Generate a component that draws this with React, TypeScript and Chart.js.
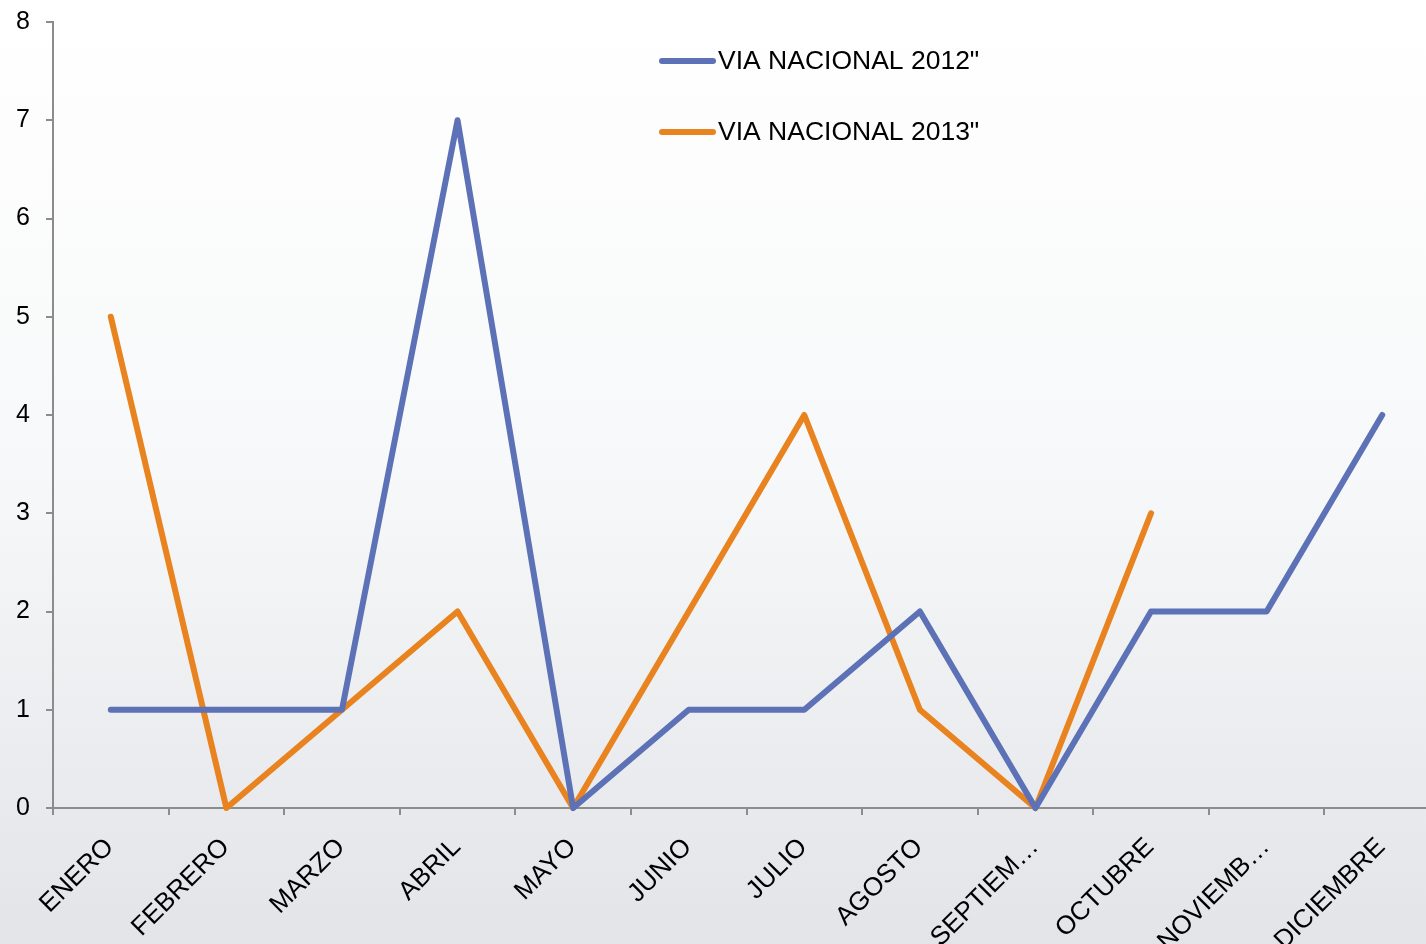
import React, { useEffect, useRef } from "react";
import { Chart, registerables } from "chart.js";

Chart.register(...registerables);

const categories = [
  "ENERO", "FEBRERO", "MARZO", "ABRIL", "MAYO", "JUNIO",
  "JULIO", "AGOSTO", "SEPTIEM…", "OCTUBRE", "NOVIEMB…", "DICIEMBRE",
];
const series2012 = [1, 1, 1, 7, 0, 1, 1, 2, 0, 2, 2, 4];
const series2013 = [5, 0, 1, 2, 0, 2, 4, 1, 0, 3, null, null];
const seriesLabels = ['VIA NACIONAL 2012"', 'VIA NACIONAL 2013"'];
const seriesColors = ["#5C71B6", "#E8831F"];
const yTicks = [0, 1, 2, 3, 4, 5, 6, 7, 8];

const FONT = "'Liberation Sans', Arial, sans-serif";

const bgPlugin = {
  id: "bgGradient",
  beforeDraw(chart: any) {
    const { ctx, width, height } = chart;
    const g = ctx.createLinearGradient(0, 0, 0, height);
    g.addColorStop(0, "#ffffff");
    g.addColorStop(0.5, "#f7f8f9");
    g.addColorStop(1, "#e2e4e8");
    ctx.save();
    ctx.fillStyle = g;
    ctx.fillRect(0, 0, width, height);
    ctx.restore();
  },
};

const legendPlugin = {
  id: "customLegend",
  afterDraw(chart: any) {
    const { ctx } = chart;
    const x0 = 662;
    const x1 = 713;
    const tx = 718;
    const ys = [61, 132];
    ctx.save();
    chart.data.datasets.forEach((ds: any, i: number) => {
      const y = ys[i];
      ctx.strokeStyle = ds.borderColor;
      ctx.lineWidth = 6;
      ctx.lineCap = "round";
      ctx.beginPath();
      ctx.moveTo(x0, y);
      ctx.lineTo(x1, y);
      ctx.stroke();
      ctx.fillStyle = "#000";
      ctx.font = `26.5px ${FONT}`;
      ctx.textBaseline = "middle";
      ctx.textAlign = "left";
      ctx.fillText(ds.label, tx, y + 1);
    });
    ctx.restore();
  },
};

export default function App() {
  const ref = useRef<HTMLCanvasElement | null>(null);

  useEffect(() => {
    document.body.style.margin = "0";
    const canvas = ref.current!;
    const chart = new Chart(canvas, {
      type: "line",
      data: {
        labels: categories,
        datasets: [
          {
            label: seriesLabels[0],
            data: series2012,
            borderColor: seriesColors[0],
            backgroundColor: seriesColors[0],
            borderWidth: 6,
            pointRadius: 0,
            tension: 0,
            borderCapStyle: "round",
            borderJoinStyle: "round",
            clip: false as any,
          },
          {
            label: seriesLabels[1],
            data: series2013,
            borderColor: seriesColors[1],
            backgroundColor: seriesColors[1],
            borderWidth: 6,
            pointRadius: 0,
            tension: 0,
            borderCapStyle: "round",
            borderJoinStyle: "round",
            clip: false as any,
          },
        ],
      },
      options: {
        responsive: false,
        animation: false,
        devicePixelRatio: 1,
        layout: { padding: { top: 22, left: 0, right: 0, bottom: 0 } },
        plugins: {
          legend: { display: false },
          tooltip: { enabled: false },
        },
        scales: {
          x: {
            offset: true,
            grid: {
              offset: true,
              drawOnChartArea: false,
              drawTicks: true,
              tickLength: 7,
              color: "#8c8c8c",
              lineWidth: 2,
            },
            border: { color: "#8c8c8c", width: 2 },
            ticks: {
              autoSkip: false,
              maxRotation: 45,
              minRotation: 45,
              padding: 17,
              labelOffset: -1,
              color: "#000",
              font: { family: FONT, size: 26 },
            },
            afterFit(scale: any) {
              scale.height = 136;
            },
          },
          y: {
            min: 0,
            max: 8,
            afterBuildTicks(scale: any) {
              scale.ticks = yTicks.map((v) => ({ value: v }));
            },
            grid: {
              drawOnChartArea: false,
              drawTicks: true,
              tickLength: 7,
              color: "#8c8c8c",
              lineWidth: 2,
            },
            border: { color: "#8c8c8c", width: 2 },
            ticks: {
              padding: 16,
              color: "#000",
              font: { family: FONT, size: 25 },
            },
            afterFit(scale: any) {
              scale.width = 53;
              scale.paddingTop = 0;
              scale.paddingBottom = 0;
            },
          },
        },
      },
      plugins: [bgPlugin, legendPlugin],
    });
    return () => chart.destroy();
  }, []);

  return (
    <div
      style={{
        position: "fixed",
        left: 0,
        top: 0,
        width: 1426,
        height: 944,
        overflow: "hidden",
      }}
    >
      <canvas ref={ref} width={1440} height={944} style={{ display: "block" }} />
    </div>
  );
}
